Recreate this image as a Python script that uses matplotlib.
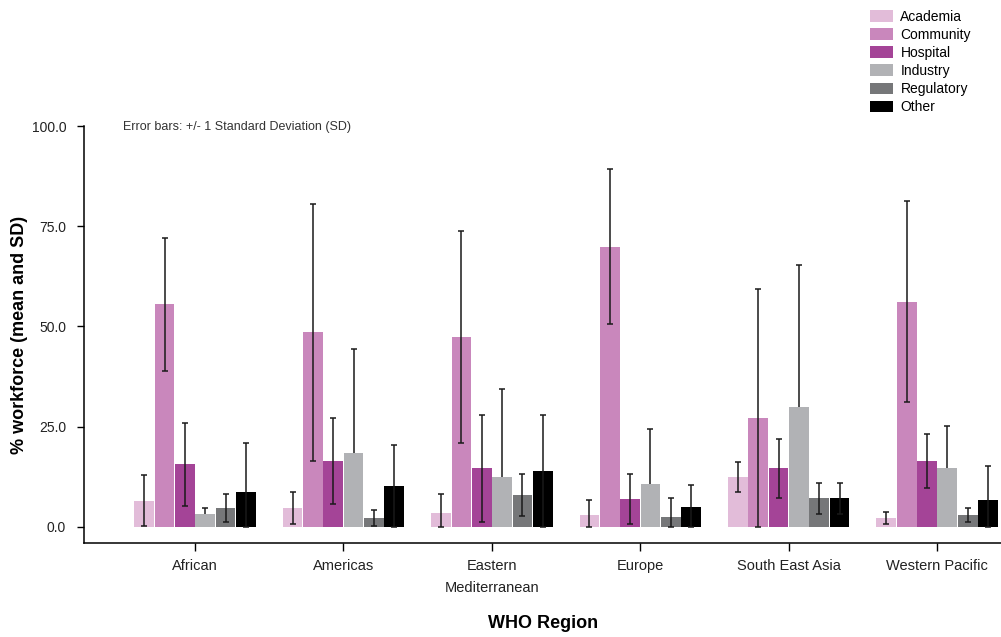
"""Workforce distribution by WHO region, grouped bars with +/- 1 SD error bars."""

import numpy as np
import matplotlib.pyplot as plt
from matplotlib.patches import Patch

plt.rcParams["font.family"] = ["Liberation Sans", "DejaVu Sans"]

REGIONS = ["African", "Americas", "Eastern\nMediterranean", "Europe",
           "South East Asia", "Western Pacific"]
SECTORS = ["Academia", "Community", "Hospital", "Industry", "Regulatory", "Other"]
COLORS = ["#e2bcd9", "#c987bc", "#a44497", "#b1b2b5", "#767779", "#000000"]

# means (%) per sector, one value per region
academia = [6.5, 4.7, 3.4, 2.9, 12.4, 2.2]
community = [55.5, 48.5, 47.3, 69.9, 27.1, 56.2]
hospital = [15.6, 16.4, 14.6, 6.9, 14.6, 16.4]
industry = [3.2, 18.4, 12.4, 10.6, 29.8, 14.6]
regulatory = [4.7, 2.2, 7.9, 2.4, 7.1, 2.9]
other = [8.6, 10.1, 13.9, 4.9, 7.1, 6.6]

# standard deviations
academia_sd = [6.3, 4.1, 4.7, 3.8, 3.7, 1.6]
community_sd = [16.7, 32.0, 26.4, 19.3, 32.3, 25.1]
hospital_sd = [10.3, 10.8, 13.4, 6.2, 7.4, 6.8]
industry_sd = [1.6, 25.9, 21.9, 13.9, 35.5, 10.6]
regulatory_sd = [3.6, 2.0, 5.3, 4.7, 3.8, 1.8]
other_sd = [12.3, 10.2, 13.9, 5.6, 3.9, 8.5]

MEANS = [academia, community, hospital, industry, regulatory, other]
SDS = [academia_sd, community_sd, hospital_sd, industry_sd, regulatory_sd, other_sd]
# in the original the industry bars hide the lower half of their error bars
BEHIND = [False, False, False, True, False, False]


def main() -> None:
    fig = plt.figure(figsize=(10.01, 6.37), dpi=100)
    ax = fig.add_axes([0.0842, 0.147, 0.9158, 0.655])

    x = np.arange(len(REGIONS))
    step = 0.137
    width = 0.133
    n = len(SECTORS)

    for i, (mean, sd, color, behind) in enumerate(zip(MEANS, SDS, COLORS, BEHIND)):
        mean = np.array(mean)
        sd = np.array(sd)
        pos = x + (i - (n - 1) / 2) * step
        ax.bar(pos, mean, width=width, color=color, zorder=2)
        # clip the lower whisker at zero; hidden whiskers stay inside the bar
        lower = np.minimum(sd, 0.9 * mean if behind else mean)
        ax.errorbar(pos, mean, yerr=[lower, sd], fmt="none", ecolor="#1a1a1a",
                    elinewidth=1.1, capsize=2.2, capthick=1.1,
                    zorder=1.5 if behind else 3)

    ax.set_xlim(-0.746, 5.43)
    ax.set_ylim(-4.14, 100)
    ax.set_xticks(x)
    ax.set_xticklabels(REGIONS, fontsize=10.5, color="#222222", linespacing=1.8)
    ax.set_yticks([0, 25, 50, 75, 100])
    ax.set_yticklabels(["0.0", "25.0", "50.0", "75.0", "100.0"], fontsize=10,
                       color="#222222")
    ax.tick_params(axis="y", length=5, pad=8, width=1)
    ax.tick_params(axis="x", length=6, pad=5, width=1)

    ax.spines["top"].set_visible(False)
    ax.spines["right"].set_visible(False)
    for s in ("left", "bottom"):
        ax.spines[s].set_linewidth(1.1)

    ax.set_ylabel("% workforce (mean and SD)", fontsize=13, fontweight="bold")
    ax.yaxis.set_label_coords(-0.061, 0.5)
    ax.set_xlabel("WHO Region", fontsize=13, fontweight="bold", labelpad=14)

    fig.text(0.123, 0.80, "Error bars: +/- 1 Standard Deviation (SD)",
             fontsize=9, color="#333333", va="center")

    handles = [Patch(facecolor=c, edgecolor="none") for c in COLORS]
    fig.legend(handles, SECTORS, loc="upper left", bbox_to_anchor=(0.869, 0.985),
               frameon=False, fontsize=10, handlelength=1.65, handleheight=0.9,
               labelspacing=0.3, handletextpad=0.55, borderpad=0, borderaxespad=0)

    fig.savefig("out.png", dpi=100)


if __name__ == "__main__":
    main()
